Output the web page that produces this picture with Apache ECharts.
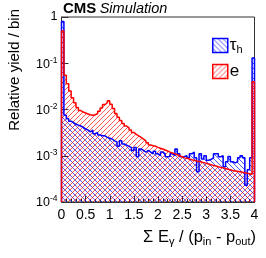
<!DOCTYPE html>
<html><head><meta charset="utf-8">
<script src="https://cdn.jsdelivr.net/npm/echarts@6/dist/echarts.min.js"></script>
<style>html,body{margin:0;padding:0;background:#fff}#c{width:266px;height:258px}</style>
</head><body><div id="c"></div>
<script>
const binWidth = 0.05;
const xTicks = [0, 0.5, 1, 1.5, 2, 2.5, 3, 3.5, 4];
const yTicks = [1e-4, 1e-3, 1e-2, 1e-1, 1];
const seriesNames = ['tau', 'e'];
const tauValues = [
 0.8, 0.0075, 0.0063, 0.0056, 0.0052, 0.0048, 0.0046, 0.0044, 0.0041, 0.0038,
 0.0036, 0.0033, 0.0036, 0.0030, 0.0032, 0.0028, 0.0027, 0.0027, 0.0025, 0.0024,
 0.0023, 0.0021, 0.0020, 0.0016, 0.0021, 0.0018, 0.0017, 0.0016, 0.0015, 0.0013,
 0.0015, 0.00095, 0.0014, 0.0013, 0.0012, 0.0013, 0.0012, 0.0011, 0.00125, 0.0011,
 0.0010, 0.0012, 0.0011, 0.00095, 0.00096, 0.0011, 0.0010, 0.0014, 0.0011, 0.00095,
 0.00096, 0.0010, 0.0009, 0.0011, 0.0012, 0.0009, 0.00045, 0.0011, 0.00085, 0.0010,
 0.0008, 0.00083, 0.0009, 0.0011, 0.0011, 0.00095, 0.0010, 0.00058, 0.00074, 0.00096,
 0.00074, 0.0007, 0.00074, 0.0009, 0.0010, 0.0009, 0.00023, 0.0005, 0.0009, 0.13
];
const eValues = [
 0.5, 0.055, 0.036, 0.025, 0.018, 0.014, 0.011, 0.0095, 0.0088, 0.0084,
 0.0080, 0.0077, 0.0075, 0.0077, 0.0082, 0.0092, 0.0108, 0.0128, 0.0140, 0.0155,
 0.0130, 0.0105, 0.0082, 0.0068, 0.0058, 0.0050, 0.0044, 0.0040, 0.0036, 0.0032,
 0.0029, 0.0027, 0.0025, 0.0023, 0.0021, 0.0019, 0.0017, 0.00165, 0.0016, 0.00152,
 0.00145, 0.0014, 0.00133, 0.00127, 0.0012, 0.00115, 0.0011, 0.00105, 0.0010, 0.00095,
 0.0009, 0.00088, 0.00085, 0.00082, 0.0008, 0.00077, 0.00075, 0.00073, 0.00071, 0.00069,
 0.00066, 0.00064, 0.00062, 0.0006, 0.00058, 0.00056, 0.00055, 0.00053, 0.00051, 0.0005,
 0.00048, 0.00047, 0.00046, 0.00045, 0.00044, 0.00043, 0.00042, 0.00041, 0.0004, 0.04
];

function hatch(r, g, b, dir) {
  const n = 5;
  const c = document.createElement('canvas');
  c.width = n; c.height = n;
  const ctx = c.getContext('2d');
  const img = ctx.createImageData(n, n);
  for (let y = 0; y < n; y++) for (let x = 0; x < n; x++) {
    const on = dir > 0 ? ((x + y) % n === n - 1) : (((x - y) % n + n) % n === 0);
    if (on) {
      const k = (y * n + x) * 4;
      img.data[k] = r; img.data[k+1] = g; img.data[k+2] = b; img.data[k+3] = 170;
    }
  }
  ctx.putImageData(img, 0, 0);
  return { image: c, repeat: 'repeat' };
}
const blueFill = hatch(0, 0, 255, -1);
const redFill = hatch(255, 0, 0, 1);

function histData(vals) {
  const yMin = yTicks[0];
  const d = [[0, yMin]];
  vals.forEach((v, i) => d.push([i * binWidth, v]));
  const xEnd = vals.length * binWidth;
  d.push([xEnd, vals[vals.length - 1]]);
  d.push([xEnd, yMin]);
  return d;
}

const font = 'Liberation Sans';
const chart = echarts.init(document.getElementById('c'), null, { renderer: 'canvas' });
chart.setOption({
  animation: false,
  textStyle: { fontFamily: font },
  grid: { left: 61.5, right: 11.5, top: 17, bottom: 56, show: true, borderColor: '#333', borderWidth: 1 },
  xAxis: {
    type: 'value', min: xTicks[0], max: xTicks[xTicks.length - 1], interval: 0.5,
    axisLine: { onZero: false, lineStyle: { color: '#333' } },
    axisTick: { inside: true, length: 6, lineStyle: { color: '#333' } },
    minorTick: { show: true, splitNumber: 5, length: 3, lineStyle: { color: '#333' } },
    splitLine: { show: false },
    axisLabel: { color: '#000', fontSize: 14, margin: 6, fontFamily: font,
      formatter: v => String(v), showMinLabel: true, showMaxLabel: true }
  },
  yAxis: {
    type: 'log', logBase: 10, min: yTicks[0], max: yTicks[yTicks.length - 1],
    axisLine: { lineStyle: { color: '#333' } },
    axisTick: { inside: true, length: 7, lineStyle: { color: '#333' } },
    splitLine: { show: false },
    axisLabel: {
      color: '#000', margin: 4, fontFamily: font,
      formatter: v => {
        const e = Math.round(Math.log10(v));
        return e === 0 ? '{b|1}' : '{b|10}{s|' + e + '}';
      },
      rich: {
        b: { fontSize: 12.5, color: '#000', fontFamily: font, verticalAlign: 'bottom' },
        s: { fontSize: 8.5, color: '#000', fontFamily: font, verticalAlign: 'bottom', padding: [0, 0, 6, 0] }
      }
    }
  },
  legend: {
    left: 207, top: 32, orient: 'vertical', icon: 'rect', itemWidth: 15, itemHeight: 14, itemGap: 8,
    data: [
      { name: 'tau', itemStyle: { color: blueFill, borderColor: '#0000ff', borderWidth: 1.5 } },
      { name: 'e', itemStyle: { color: redFill, borderColor: '#ff0000', borderWidth: 1.5 } }
    ],
    formatter: n => n === 'tau' ? '{a|τ}{sub|h}' : '{a|e}',
    textStyle: {
      padding: [0, 0, 0, -3],
      rich: {
        a: { fontSize: 17, color: '#000', fontFamily: font },
        sub: { fontSize: 11, color: '#000', fontFamily: font, padding: [8, 0, 0, 0] }
      }
    }
  },
  series: [
    { name: seriesNames[0], type: 'line', step: 'end', symbol: 'none', data: histData(tauValues),
      lineStyle: { color: '#0000ff', width: 1.5 }, itemStyle: { color: '#0000ff' },
      areaStyle: { origin: 'start', color: blueFill, opacity: 1 } },
    { name: seriesNames[1], type: 'line', step: 'end', symbol: 'none', data: histData(eValues),
      lineStyle: { color: '#ff0000', width: 1.5 }, itemStyle: { color: '#ff0000' },
      areaStyle: { origin: 'start', color: redFill, opacity: 1 } }
  ],
  graphic: [
    { type: 'text', x: 63, y: 9, style: {
        text: '{b|CMS} {i|Simulation}', verticalAlign: 'middle',
        rich: { b: { fontSize: 15, fontWeight: 'bold', fontFamily: font, fill: '#000' },
                i: { fontSize: 14.5, fontStyle: 'italic', fontFamily: font, fill: '#000' } } } },
    { type: 'text', x: 15, y: 9, rotation: Math.PI / 2, style: {
        text: 'Relative yield / bin', align: 'right', verticalAlign: 'middle',
        fontSize: 15, fontFamily: font, fill: '#000' } },
    { type: 'text', x: 256, y: 237, style: {
        text: '{a|Σ E}{s|γ}{a| / (p}{s|in}{a| - p}{s|out}{a|)}', align: 'right', verticalAlign: 'middle',
        rich: { a: { fontSize: 16.5, fontFamily: font, fill: '#000' },
                s: { fontSize: 11, fontFamily: font, fill: '#000', padding: [10, 0, 0, 0] } } } }
  ]
});
</script></body></html>
